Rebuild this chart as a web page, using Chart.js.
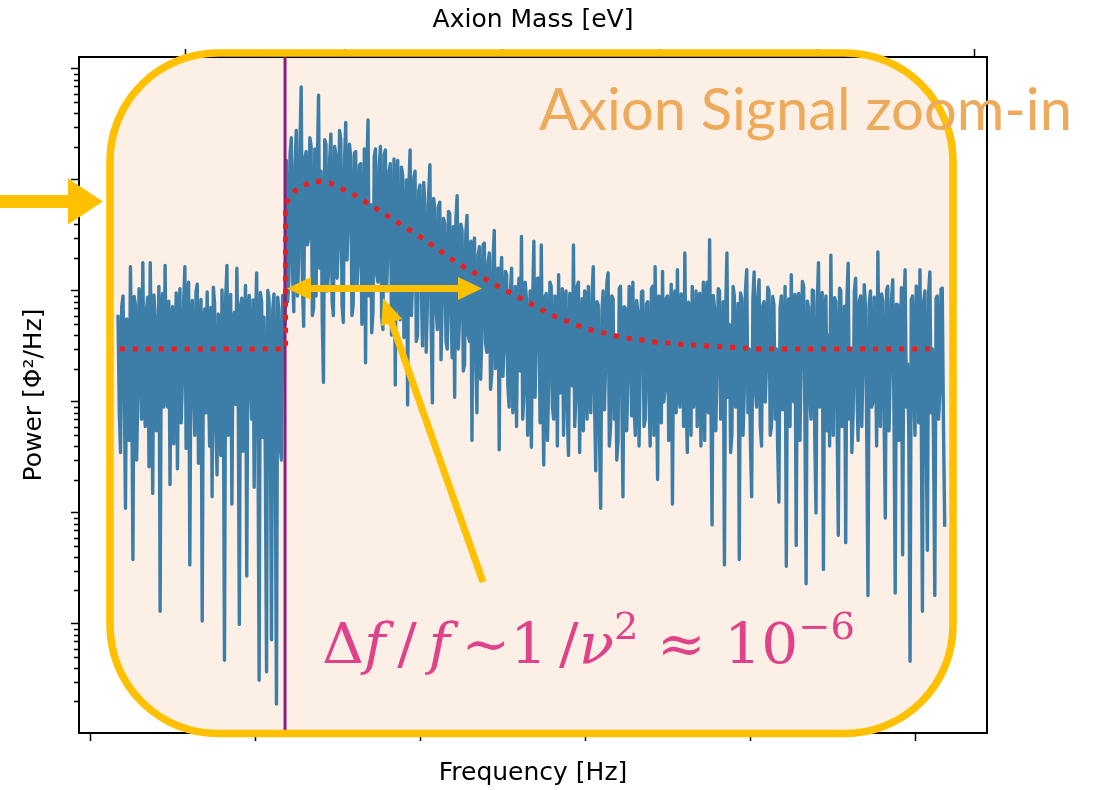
<!DOCTYPE html>
<html>
<head>
<meta charset="utf-8">
<title>Axion Signal zoom-in</title>
<script src="https://cdn.jsdelivr.net/npm/chart.js@4.4.1/dist/chart.umd.min.js"></script>
<style>
  html, body { margin: 0; padding: 0; background: #fff; }
  canvas { display: block; }
</style>
</head>
<body>
<canvas id="spectrum" width="1101" height="790"></canvas>
<script>
// frequency bins (arbitrary units), constant bin width
const freqStart = 0.17;
const freqStep = 0.0075;

const power = [
  6.1, 0.8, 0.35, 7.3, 9.0, 1.4, 0.11, 5.6, 4.2, 0.45,
  16.5, 2.1, 0.038, 8.9, 7.5, 0.3, 1.2, 10.5, 3.8, 0.7,
  18, 1.1, 0.6, 6.8, 8.8, 0.26, 18, 2.4, 0.15, 9.2,
  5.5, 0.55, 2.2, 11, 0.013, 6.3, 9.5, 0.9, 17, 1.8,
  0.9, 8.1, 0.18, 5.2, 7.2, 0.42, 3.1, 9.6, 0.25, 4.4,
  10.5, 0.65, 1.6, 7.8, 16.5, 0.38, 4.8, 12, 0.034, 5.9,
  8.2, 1.3, 0.5, 9.9, 11.5, 0.28, 2.6, 8.4, 0.0106, 4.7,
  6.9, 0.8, 9.8, 1.7, 0.4, 7.1, 0.14, 10.8, 7.7, 0.6,
  0.22, 6.2, 5.1, 0.33, 10.2, 2.9, 0.0047, 8.7, 17, 0.5,
  1.9, 9.3, 0.12, 5.4, 6.4, 0.95, 16, 2.3, 0.0099, 7.4,
  8.6, 0.36, 3.3, 11.2, 0.027, 6.0, 9.1, 1.5, 0.7, 8.3,
  0.17, 4.9, 14.5, 0.75, 0.0031, 9.7, 7.9, 0.48, 5.8, 0.31,
  0.0037, 10.1, 8.4, 0.9, 0.0072, 6.7, 9.4, 0.55, 0.0019, 8.8,
  6.6, 0.4, 0.3, 9.1, 8.1, 5.0,
  150, 8, 12, 170, 240, 15, 6.5, 130, 280, 9,
  20, 210, 690, 11, 4.8, 160, 180, 26, 30, 240,
  200, 6, 7, 190, 9, 120, 580, 16, 120, 5.5,
  1.5, 230, 210, 10, 14, 150, 260, 8, 6, 200,
  170, 13, 25, 280, 230, 7.5, 5.2, 150, 330, 19,
  45, 210, 160, 6, 7.5, 175, 180, 11, 18, 135,
  140, 5, 9, 190, 2.25, 120, 348, 9, 60, 4.2,
  6.5, 160, 190, 14, 12, 130, 200, 5.8, 4.5, 170,
  186, 10, 22, 120, 140, 4, 8, 155, 1.42, 95,
  150, 7, 5.5, 130, 110, 3.8, 18, 100, 0.94, 85,
  186, 6, 12, 105, 120, 3.5, 4, 80, 90, 12,
  3.2, 95, 60, 2.8, 8, 75, 137, 5, 0.98, 68,
  55, 7, 4.5, 58, 63, 2.4, 9, 45, 40, 3.5,
  3.0, 52, 50, 6, 2.5, 38, 1.1, 44, 72, 3,
  6, 40, 35, 1.9, 2.2, 33, 48, 4, 3.5, 28,
  0.45, 24, 30, 2.6, 0.8, 21, 25, 1.6, 4, 26,
  27, 3.4, 2.8, 18, 22, 1.3, 1.8, 19, 35, 2,
  2.4, 16, 0.37, 13, 20, 1.7, 3.0, 15,
  14, 1.4, 0.9, 9.5, 16, 0.8, 2.5, 11, 0.6, 8,
  13, 1.9, 31, 0.7, 1.2, 12, 8.5, 0.5, 3.2, 10,
  0.39, 7.5, 28, 1.1, 4, 13, 13, 0.65, 26, 1.6,
  0.27, 8.8, 9.5, 0.45, 1.5, 12, 11, 0.9, 0.7, 9,
  7, 0.4, 14, 1.2, 2, 10.5, 0.5, 7.8, 10, 0.8,
  0.33, 9.5, 8, 1.4, 26, 0.6, 1.1, 11, 12, 0.35,
  3, 8.5, 0.55, 10, 9, 0.7, 11, 1.6, 0.8, 9.2,
  16.5, 1.1, 0.24, 8, 7.5, 0.5, 0.11, 6.5, 10, 0.85,
  2.2, 12, 14.5, 0.4, 0.6, 9, 8.5, 0.7, 4, 0.3,
  0.45, 10.5, 11, 1.3, 0.14, 7.2, 7, 0.55, 1.6, 11,
  9.5, 0.75, 12, 0.9, 0.5, 8.2, 6.5, 0.4, 2.4, 9.8,
  10, 0.6, 0.7, 7.6, 8, 1.2, 0.4, 10.5, 11, 0.5,
  16.5, 1.8, 0.2, 9, 7, 0.65, 15, 1, 1.3, 8.6,
  9, 0.45, 2.8, 11.5, 0.12, 6.8, 10, 0.8, 15.5, 1.5,
  0.9, 9.4, 8, 0.6, 22, 1.2, 0.35, 7.9, 6.5, 0.5,
  11, 0.9, 1.8, 10, 0.6, 8.3, 9.5, 0.4, 3.5, 12,
  0.45, 7, 12, 0.8, 29, 1.4, 0.078, 9.1, 7, 0.55,
  2, 10.5, 10, 0.7, 0.7, 8, 0.034, 6.6, 22, 1.1,
  5, 0.35, 0.5, 11, 9, 0.9, 2.5, 7.7, 0.038, 9.6,
  8.5, 0.5, 1.2, 10, 15.5, 0.8, 3, 0.45, 0.14, 8.4,
  14.8, 1.3, 0.9, 9, 12.6, 0.6, 0.4, 7.4, 8, 1,
  2.2, 10.8, 10, 0.5, 0.6, 8.9, 7.5, 0.7, 3, 0.4,
  0.125, 7.1, 9, 0.85, 1.5, 11, 0.033, 6.2, 8.5, 0.6,
  14, 1.5, 1, 9.3, 0.051, 7.8, 9.5, 0.45, 2.5, 12.2,
  11, 0.75, 0.023, 8.1, 7, 1.1, 0.7, 10.2, 10, 0.5,
  0.1, 7.5, 18, 0.9, 2, 9.7, 0.031, 6.4, 9, 0.55,
  4, 0.4, 21, 1.2, 0.5, 8.7, 8, 0.8, 0.063, 10.6,
  10, 0.6, 1.4, 7.3, 0.054, 8.5, 17.8, 0.7, 3, 0.35,
  0.8, 9.9, 13, 1.3, 0.45, 8, 9, 0.6, 2.5, 11.4,
  7, 0.5, 0.018, 7.7, 10, 0.9, 1, 8.8, 3.5, 0.4,
  22.4, 1.6, 0.6, 9.4, 8, 0.7, 0.09, 10.1, 11, 0.55,
  2, 8.2, 12.6, 0.8, 0.019, 7.6, 7.5, 0.45, 1.5, 10.7,
  0.042, 6.9, 15.5, 0.9, 2.2, 0.5, 0.0046, 8.3, 9, 1.2,
  0.5, 11.1, 8.5, 0.65, 15.5, 1, 0.013, 7.9, 10, 0.5,
  0.046, 9.5, 14.8, 0.8, 3, 0.4, 0.018, 8.6, 9, 0.7,
  1.2, 10.4, 10.6, 0.6, 0.075
];

// expected signal + background (red dotted)
const modelFreq = [0.18, 1.185, 1.185, 1.212, 1.273, 1.370, 1.455, 1.606, 1.818, 2.012,
  2.224, 2.436, 2.648, 2.794, 3.0, 3.212, 3.424, 3.636, 3.855, 4.067, 5.139];
const modelPower = [3.0, 3.0, 59.5, 71.7, 88.3, 98, 94, 73, 46, 30,
  17.9, 11.8, 8.0, 6.1, 4.6, 3.85, 3.47, 3.26, 3.13, 3.0, 3.0];

// onset of axion line (purple)
const signalFreq = 1.182;

const xTicks = [0, 1, 2, 3, 4, 5];
const massTicks = [0.58, 1.54, 2.5, 3.45, 4.41, 5.36];
const yTicks = [0.01, 0.1, 1, 10, 100, 1000];
const xMin = -0.0667, xMax = 5.4363;
const yMin = 0.00104, yMax = 1282;

const points = power.map((p, i) => ({ x: freqStart + i * freqStep, y: p }));
const model = modelFreq.map((f, i) => ({ x: f, y: modelPower[i] }));

function roundRect(ctx, x0, y0, x1, y1, r) {
    ctx.beginPath();
    ctx.moveTo(x0 + r, y0);
    ctx.arcTo(x1, y0, x1, y1, r);
    ctx.arcTo(x1, y1, x0, y1, r);
    ctx.arcTo(x0, y1, x0, y0, r);
    ctx.arcTo(x0, y0, x1, y0, r);
    ctx.closePath();
}

function head(ctx, tx, ty, ux, uy, len, half) {
    const bx = tx - ux * len, by = ty - uy * len;
    ctx.beginPath();
    ctx.moveTo(tx, ty);
    ctx.lineTo(bx - uy * half, by + ux * half);
    ctx.lineTo(bx + uy * half, by - ux * half);
    ctx.closePath();
    ctx.fill();
}

function arrow(ctx, x1, y1, x2, y2, w, len, half, both) {
    const d = Math.hypot(x2 - x1, y2 - y1);
    const ux = (x2 - x1) / d, uy = (y2 - y1) / d;
    const s = both ? len * 0.9 : 0;
    ctx.lineWidth = w;
    ctx.lineCap = 'butt';
    ctx.beginPath();
    ctx.moveTo(x1 + ux * s, y1 + uy * s);
    ctx.lineTo(x2 - ux * len * 0.9, y2 - uy * len * 0.9);
    ctx.stroke();
    head(ctx, x2, y2, ux, uy, len, half);
    if (both) head(ctx, x1, y1, -ux, -uy, len, half);
}

function drawFormula(ctx, parts, x, baseline, size, width) {
    const fontFor = p => (p[1] ? 'italic ' : '') + (p[2] ? Math.round(size * 0.66) : size) + 'px "DejaVu Serif"';
    let total = 0;
    parts.forEach(p => { ctx.font = fontFor(p); total += ctx.measureText(p[0]).width; });
    ctx.save();
    ctx.translate(x, baseline);
    ctx.scale(width / total, 1);
    let cx = 0;
    parts.forEach(p => {
        ctx.font = fontFor(p);
        ctx.fillText(p[0], cx, p[2] ? -size * 0.42 : 0);
        cx += ctx.measureText(p[0]).width;
    });
    ctx.restore();
}

const decor = {
    id: 'decor',
    beforeDraw(chart) {
        const ctx = chart.ctx;
        ctx.save();
        ctx.fillStyle = '#fff';
        ctx.fillRect(0, 0, chart.width, chart.height);
        roundRect(ctx, 110, 53, 953, 733.5, 108);
        ctx.fillStyle = '#FCF0E6';
        ctx.fill();
        ctx.restore();
    },
    afterDatasetsDraw(chart) {
        const ctx = chart.ctx;
        const a = chart.chartArea;
        const y = chart.scales.y;
        ctx.save();
        ctx.strokeStyle = '#000';
        ctx.lineWidth = 2;
        ctx.beginPath();
        ctx.moveTo(a.right, a.top - 1);
        ctx.lineTo(a.right, a.bottom + 1);
        ctx.stroke();
        // minor log ticks
        ctx.lineWidth = 1.3;
        ctx.beginPath();
        [0.001].concat(yTicks).forEach(d => {
            for (let k = 2; k <= 9; k++) {
                const v = d * k;
                if (v < yMin || v > yMax) continue;
                const py = Math.round(y.getPixelForValue(v)) + 0.5;
                ctx.moveTo(a.left - 5, py);
                ctx.lineTo(a.left, py);
            }
        });
        ctx.stroke();
        ctx.restore();
    },
    afterDraw(chart) {
        const ctx = chart.ctx;
        ctx.save();
        roundRect(ctx, 110, 53, 953, 733.5, 108);
        ctx.strokeStyle = '#FFC000';
        ctx.lineWidth = 7.5;
        ctx.stroke();

        ctx.strokeStyle = '#FFC000';
        ctx.fillStyle = '#FFC000';
        arrow(ctx, 0, 201.5, 103, 201.5, 13, 35, 23, false);
        arrow(ctx, 287, 288.5, 482, 288.5, 7, 24, 11.5, true);
        arrow(ctx, 483, 582, 383, 298, 7, 26, 11, false);

        const txt = 'Axion Signal zoom-in';
        ctx.font = '58px Lato';
        const w = ctx.measureText(txt).width;
        ctx.save();
        ctx.translate(539, 130);
        ctx.scale(533 / w, 1);
        ctx.fillStyle = '#ECAA5A';
        ctx.textBaseline = 'alphabetic';
        ctx.fillText(txt, 0, 0);
        ctx.restore();

        ctx.fillStyle = '#E0428A';
        ctx.textBaseline = 'alphabetic';
        drawFormula(ctx, [
            ['\u0394', 0, 0], ['f', 1, 0], ['\u2009/\u2009', 0, 0], ['f', 1, 0], ['\u2009~', 0, 0],
            ['1', 0, 0], ['\u2009/', 0, 0], ['\u03BD', 1, 0], ['2', 0, 1], [' \u2248 ', 0, 0],
            ['10', 0, 0], ['\u22126', 0, 1]
        ], 322, 663, 56, 533);
        ctx.restore();
    }
};

const axisFont = { family: 'DejaVu Sans', size: 25 };
const tickGrid = { drawOnChartArea: false, drawTicks: true, tickLength: 8, tickWidth: 1.5, tickColor: '#000', color: '#000' };
const spine = { display: true, color: '#000', width: 2 };

new Chart(document.getElementById('spectrum'), {
    type: 'line',
    data: {
        datasets: [
            {
                label: 'model',
                data: model,
                borderColor: '#EE1D1D',
                borderWidth: 5,
                borderDash: [5, 8],
                borderCapStyle: 'butt',
                pointRadius: 0,
                order: 0
            },
            {
                label: 'axion onset',
                data: [{ x: signalFreq, y: yMin }, { x: signalFreq, y: yMax }],
                borderColor: '#8D1D7A',
                borderWidth: 3,
                pointRadius: 0,
                order: 1
            },
            {
                label: 'power',
                data: points,
                borderColor: '#3C7EA7',
                borderWidth: 3.4,
                borderJoinStyle: 'round',
                pointRadius: 0,
                order: 2
            }
        ]
    },
    options: {
        responsive: false,
        animation: false,
        events: [],
        layout: { padding: { left: 0, right: 114, top: 0, bottom: 0 } },
        plugins: { legend: { display: false }, tooltip: { enabled: false } },
        scales: {
            x: {
                type: 'linear', position: 'bottom', min: xMin, max: xMax,
                afterBuildTicks: s => { s.ticks = xTicks.map(v => ({ value: v })); },
                afterFit: s => { s.height = 57; },
                ticks: { display: false },
                grid: tickGrid,
                border: spine,
                title: { display: true, text: 'Frequency [Hz]', color: '#000', font: axisFont, padding: { top: 0, bottom: 2 } }
            },
            x2: {
                type: 'linear', position: 'top', min: xMin, max: xMax,
                afterBuildTicks: s => { s.ticks = massTicks.map(v => ({ value: v })); },
                afterFit: s => { s.height = 57; },
                ticks: { display: false },
                grid: tickGrid,
                border: spine,
                title: { display: true, text: 'Axion Mass [eV]', color: '#000', font: axisFont, padding: { top: 5.5, bottom: 0 } }
            },
            y: {
                type: 'logarithmic', position: 'left', min: yMin, max: yMax,
                afterBuildTicks: s => { s.ticks = yTicks.map(v => ({ value: v })); },
                afterFit: s => { s.width = 79; },
                ticks: { display: false },
                grid: tickGrid,
                border: spine,
                title: { display: true, text: 'Power [\u03A6\u00B2/Hz]', color: '#000', font: axisFont, padding: { top: 19, bottom: 0 } }
            }
        }
    },
    plugins: [decor]
});
</script>
</body>
</html>
